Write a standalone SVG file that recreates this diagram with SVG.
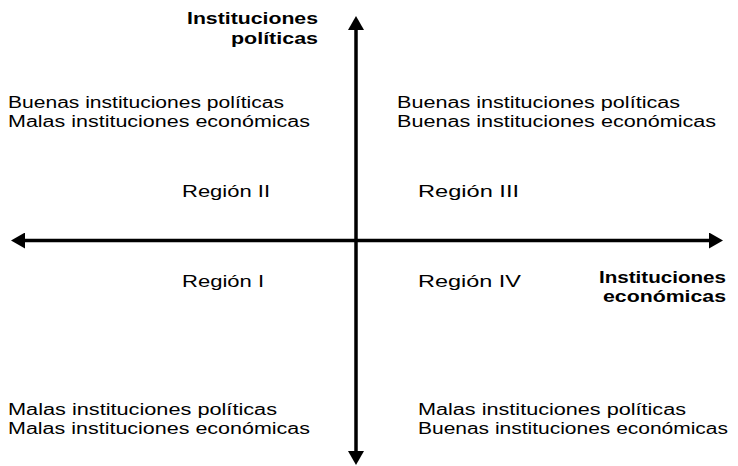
<svg xmlns="http://www.w3.org/2000/svg" width="738" height="466" viewBox="0 0 738 466">
<style>
text{font-family:"Liberation Sans",Arial,sans-serif;fill:#000}
.t{font-size:16px}
.b{font-size:16px;font-weight:bold}
.ax{stroke:#000;stroke-width:3.5;fill:none}
</style>
<defs>
<marker id="ah" markerUnits="userSpaceOnUse" viewBox="0 0 14 16" markerWidth="14" markerHeight="16" refX="0" refY="8" orient="auto-start-reverse">
<path d="M0,0 L14,8 L0,16 z" fill="#000"/>
</marker>
</defs>
<rect width="738" height="466" fill="#fff"/>
<g id="connectors">
<line class="ax" x1="356" y1="451" x2="356" y2="30" marker-start="url(#ah)" marker-end="url(#ah)"/>
<line class="ax" x1="25" y1="240.5" x2="709" y2="240.5" marker-start="url(#ah)" marker-end="url(#ah)"/>
</g>
<g id="axis-political">
<text class="b" x="187" y="24" textLength="131" lengthAdjust="spacingAndGlyphs">Instituciones</text>
<text class="b" x="231" y="44" textLength="87" lengthAdjust="spacingAndGlyphs">políticas</text>
</g>
<g id="axis-economic">
<text class="b" x="599" y="283" textLength="127" lengthAdjust="spacingAndGlyphs">Instituciones</text>
<text class="b" x="603" y="302" textLength="123" lengthAdjust="spacingAndGlyphs">económicas</text>
</g>
<g id="quadrant-tl">
<text class="t" x="8" y="108" textLength="276" lengthAdjust="spacingAndGlyphs">Buenas instituciones políticas</text>
<text class="t" x="8" y="127" textLength="302" lengthAdjust="spacingAndGlyphs">Malas instituciones económicas</text>
</g>
<g id="quadrant-tr">
<text class="t" x="397" y="108" textLength="283" lengthAdjust="spacingAndGlyphs">Buenas instituciones políticas</text>
<text class="t" x="397" y="127" textLength="319" lengthAdjust="spacingAndGlyphs">Buenas instituciones económicas</text>
</g>
<g id="region-2"><text class="t" x="182" y="197" textLength="88" lengthAdjust="spacingAndGlyphs">Región II</text></g>
<g id="region-3"><text class="t" x="418" y="197" textLength="101" lengthAdjust="spacingAndGlyphs">Región III</text></g>
<g id="region-1"><text class="t" x="182" y="287" textLength="82" lengthAdjust="spacingAndGlyphs">Región I</text></g>
<g id="region-4"><text class="t" x="418" y="287" textLength="103" lengthAdjust="spacingAndGlyphs">Región IV</text></g>
<g id="quadrant-bl">
<text class="t" x="8" y="415" textLength="269" lengthAdjust="spacingAndGlyphs">Malas instituciones políticas</text>
<text class="t" x="8" y="434" textLength="302" lengthAdjust="spacingAndGlyphs">Malas instituciones económicas</text>
</g>
<g id="quadrant-br">
<text class="t" x="418" y="415" textLength="268" lengthAdjust="spacingAndGlyphs">Malas instituciones políticas</text>
<text class="t" x="418" y="434" textLength="310" lengthAdjust="spacingAndGlyphs">Buenas instituciones económicas</text>
</g>
</svg>
